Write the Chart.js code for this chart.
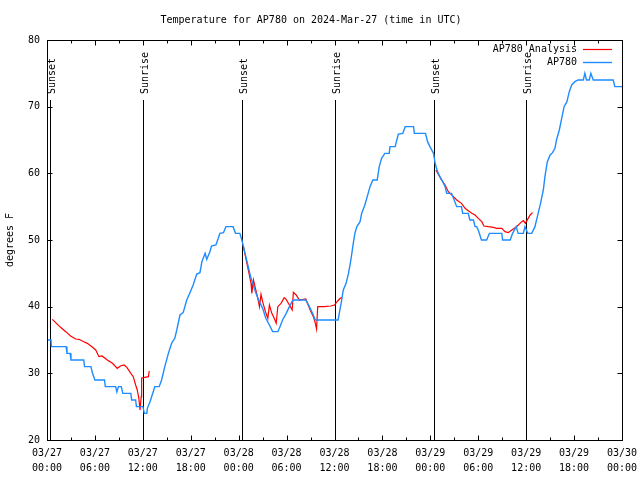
<!DOCTYPE html>
<html>
<head>
<meta charset="utf-8">
<script src="https://cdn.jsdelivr.net/npm/chart.js@4"></script>
<style>
  html, body { margin: 0; padding: 0; background: #fff; }
  #wrap { width: 640px; height: 480px; }
</style>
</head>
<body>
<div id="wrap"><canvas id="chart" width="640" height="480"></canvas></div>
<script>
// hours since 03/27 00:00 UTC
const blueHours = [0, 0.5, 0.55, 2.4, 2.5, 2.9, 3.0, 4.6, 4.7, 5.5, 5.7, 6.0, 7.2, 7.3, 8.6, 8.75, 8.95, 9.3, 9.5, 10.5,
  10.6, 11.1, 11.2, 12.0, 12.2, 12.5, 12.56, 12.9, 13.3, 13.5, 14.05, 14.35, 14.75, 15.2, 15.6, 16.0, 16.25, 16.65, 17.05, 17.5,
  17.9, 18.3, 18.75, 19.15, 19.4, 19.8, 20.0, 20.4, 20.6, 21.15, 21.45, 21.65, 22.1, 22.4, 23.3, 23.6, 24.15, 24.4, 24.8, 25.25,
  25.55, 25.95, 26.25, 26.6, 27.0, 27.4, 27.85, 28.25, 28.9, 29.1, 29.5, 29.95, 30.35, 30.75, 30.95, 32.4, 32.85, 33.25, 33.6, 36.45,
  36.6, 36.9, 37.1, 37.45, 37.75, 38.05, 38.35, 38.55, 38.8, 39.2, 39.4, 39.8, 40.1, 40.45, 40.8, 41.35, 41.6, 41.9, 42.3, 42.85,
  42.95, 43.6, 43.8, 44.0, 44.55, 44.85, 45.9, 46.0, 47.4, 47.65, 47.95, 48.4, 48.6, 48.9, 49.2, 49.55, 49.85, 50.05, 50.65, 50.9,
  51.3, 51.9, 52.05, 52.75, 52.95, 53.4, 53.6, 53.8, 54.0, 54.4, 55.05, 55.4, 56.95, 57.05, 58.0, 58.3, 58.75, 59.0, 59.65, 59.85,
  60.2, 60.7, 61.1, 61.5, 61.8, 62.15, 62.35, 62.65, 63.0, 63.3, 63.6, 63.8, 64.15, 64.45, 64.75, 65.1, 65.4, 65.7, 66.1, 66.5,
  67.15, 67.35, 67.55, 67.9, 68.1, 68.4, 70.9, 71.1, 72];
const blueTemps = [35, 35, 34, 34, 33, 33, 32, 32, 31, 31, 30, 29, 29, 28, 28, 27.2, 28, 28, 27, 27,
  26, 26, 25, 25, 24, 24, 24.75, 25.75, 27.25, 28, 28, 29, 31, 33, 34.5, 35.25, 36.5, 38.75, 39.1, 41,
  42.1, 43.25, 44.9, 45.1, 46.75, 48, 47.1, 48.25, 49.1, 49.25, 50.25, 51, 51.1, 52, 52, 51, 51, 50, 48, 45.75,
  44.25, 42.75, 41.75, 40.75, 39.75, 38.25, 37.25, 36.25, 36.25, 36.75, 38, 39, 40, 40.9, 41, 41, 40, 39, 38, 38,
  39, 41, 42.5, 43.5, 45, 47, 49.5, 51, 52, 52.75, 54, 55.25, 56.5, 58, 59, 59, 61, 62.25, 63, 63,
  64, 64, 65, 65.9, 66, 67, 67, 66, 66, 64.75, 64, 63, 61.5, 60.25, 59.5, 58.75, 58, 57, 57, 56.25,
  55, 55, 54, 54, 53, 53, 52, 52, 51.5, 50, 50, 51, 51, 50, 50, 51, 52, 51, 51, 52,
  51, 51, 52, 54, 55.5, 57.5, 59.5, 61.75, 62.75, 63.1, 63.75, 65, 66.5, 68.25, 70, 70.75, 72.25, 73.25, 73.75, 74,
  74, 75, 74, 74, 75, 74, 74, 73, 73];

const redHours = [0.67, 1.7, 2.35, 2.95, 3.6, 4.0, 4.6, 5.05, 5.7, 6.1, 6.5, 6.9, 7.55, 8.2, 8.8, 9.2, 9.65, 10.0, 10.5, 10.8,
  11.1, 11.3, 11.5, 11.65, 11.8, 11.85, 12.7, 12.8, 18,
  24.6, 24.9, 25.25, 25.55, 25.65, 25.85, 26.1, 26.4, 26.6, 26.8, 27.0, 27.35, 27.65, 27.85, 28.15, 28.45, 28.7, 28.9, 29.3, 29.7,
  29.95, 30.35, 30.7, 30.85, 31.2, 31.6, 32.4, 33.05, 33.35, 33.6, 33.75, 33.9, 34.7, 35.55, 36.0, 36.4, 36.7, 36.95, 42,
  48.7, 49.4, 49.85, 50.25, 50.9, 51.3, 51.9, 52.35, 52.75, 53.2, 53.6, 54.0, 54.45, 54.7, 55.25, 55.9, 56.3, 56.95, 57.35, 57.75,
  58.2, 58.8, 59.45, 59.65, 59.9, 60.25, 60.5, 60.8];
const redTemps = [38.1, 36.9, 36.25, 35.6, 35.15, 35.1, 34.75, 34.5, 33.9, 33.5, 32.5, 32.6, 32, 31.5, 30.75, 31.1, 31.25, 30.9, 30, 29.5,
  28.25, 27.5, 26.25, 24.5, 26.5, 29.3, 29.5, 30.35, null,
  49, 47.25, 45.25, 43.5, 42, 44, 42.75, 41.25, 40, 41.85, 40.75, 39.25, 38.25, 40.25, 39, 38.25, 37.5, 40, 40.5, 41.35,
  41.1, 40.25, 39.5, 42.15, 41.75, 41, 41.15, 39.25, 38.5, 37.5, 36.65, 40, 40, 40.1, 40.25, 40.85, 41.25, 41.35, null,
  60.5, 59, 58.25, 57.25, 56.5, 56, 55.5, 54.75, 54.4, 54, 53.75, 53.25, 52.75, 52.1, 52, 51.9, 51.75, 51.75, 51.25, 51.1,
  51.5, 52, 52.75, 52.9, 52.5, 53.25, 53.75, 54.1];

const eventHours = [0.4, 12.0, 24.4, 36.05, 48.45, 60.0];
const eventLabels = ['Sunset', 'Sunrise', 'Sunset', 'Sunrise', 'Sunset', 'Sunrise'];

const tickDates = ['03/27', '03/27', '03/27', '03/27', '03/28', '03/28', '03/28', '03/28', '03/29', '03/29', '03/29', '03/29', '03/30'];
const tickTimes = ['00:00', '06:00', '12:00', '18:00', '00:00', '06:00', '12:00', '18:00', '00:00', '06:00', '12:00', '18:00', '00:00'];

const FONT = 'DejaVu Sans Mono';

function points(xs, ys) {
  return xs.map((x, i) => ({ x: x, y: ys[i] }));
}

// gnuplot style frame: box, inward tics, sunrise/sunset markers, inset key
const gnuFrame = {
  id: 'gnuFrame',
  beforeDatasetsDraw(chart) {
    const ctx = chart.ctx;
    const xs = chart.scales.x;
    const ys = chart.scales.y;
    const top = ys.getPixelForValue(71);
    ctx.save();
    ctx.strokeStyle = '#000';
    ctx.lineWidth = 1;
    ctx.fillStyle = '#000';
    ctx.font = '10px ' + FONT;
    eventHours.forEach((h, i) => {
      const px = Math.round(xs.getPixelForValue(h)) + 0.5;
      ctx.beginPath();
      ctx.moveTo(px, top);
      ctx.lineTo(px, chart.chartArea.bottom);
      ctx.stroke();
      ctx.save();
      ctx.translate(px + 2, top - 6);
      ctx.rotate(-Math.PI / 2);
      ctx.textAlign = 'left';
      ctx.textBaseline = 'middle';
      ctx.fillText(eventLabels[i], 0, 0);
      ctx.restore();
    });
    ctx.restore();
  },
  afterDraw(chart) {
    const ctx = chart.ctx;
    const a = chart.chartArea;
    const xs = chart.scales.x;
    const ys = chart.scales.y;
    ctx.save();
    ctx.strokeStyle = '#000';
    ctx.lineWidth = 1;
    const L = Math.round(a.left) + 0.5, R = Math.round(a.right) + 0.5;
    const T = Math.round(a.top) + 0.5, B = Math.round(a.bottom) + 0.5;
    ctx.strokeRect(L, T, R - L, B - T);
    ctx.beginPath();
    for (let h = 0; h <= 72; h += 3) {
      const px = Math.round(xs.getPixelForValue(h)) + 0.5;
      const len = h % 6 === 0 ? 5 : 3;
      ctx.moveTo(px, B); ctx.lineTo(px, B - len);
      ctx.moveTo(px, T); ctx.lineTo(px, T + len);
    }
    for (let v = 20; v <= 80; v += 10) {
      const py = Math.round(ys.getPixelForValue(v)) + 0.5;
      ctx.moveTo(L, py); ctx.lineTo(L + 5, py);
      ctx.moveTo(R, py); ctx.lineTo(R - 5, py);
    }
    ctx.stroke();

    // key
    ctx.font = '10px ' + FONT;
    ctx.textAlign = 'right';
    ctx.textBaseline = 'middle';
    ctx.fillStyle = '#000';
    chart.data.datasets.forEach((ds, i) => {
      const y = 49.5 + i * 13;
      ctx.fillText(ds.label, 577, y);
      ctx.strokeStyle = ds.borderColor;
      ctx.lineWidth = ds.borderWidth;
      ctx.beginPath();
      ctx.moveTo(583, y);
      ctx.lineTo(612, y);
      ctx.stroke();
    });
    ctx.restore();
  }
};

Chart.defaults.font.family = FONT;
Chart.defaults.font.size = 10;
Chart.defaults.color = '#000';

new Chart(document.getElementById('chart'), {
  type: 'line',
  data: {
    datasets: [
      {
        label: 'AP780 Analysis',
        data: points(redHours, redTemps),
        borderColor: '#ff0000',
        borderWidth: 1.2,
        pointRadius: 0,
        spanGaps: false,
        order: 1
      },
      {
        label: 'AP780',
        data: points(blueHours, blueTemps),
        borderColor: '#1e8cff',
        borderWidth: 1.4,
        pointRadius: 0,
        order: 0
      }
    ]
  },
  options: {
    responsive: false,
    animation: false,
    layout: { padding: { left: 0, right: 18, top: 0, bottom: 0 } },
    plugins: {
      legend: { display: false },
      tooltip: { enabled: false },
      title: {
        display: true,
        text: 'Temperature for AP780 on 2024-Mar-27 (time in UTC)',
        font: { family: FONT, size: 10, weight: 'normal' },
        color: '#000',
        padding: { top: 14, bottom: 14 }
      }
    },
    scales: {
      x: {
        type: 'linear',
        min: 0,
        max: 72,
        grid: { display: false, drawTicks: false },
        border: { display: false },
        ticks: {
          stepSize: 6,
          maxRotation: 0,
          autoSkip: false,
          padding: 6,
          font: { family: FONT, size: 10, lineHeight: 1.5 },
          callback: (v) => {
            const i = Math.round(v / 6);
            return [tickDates[i], tickTimes[i]];
          }
        },
        afterFit: (s) => {
          s.height = 40;
          s.paddingLeft = 0;
          s.paddingRight = 0;
        }
      },
      y: {
        min: 20,
        max: 80,
        grid: { display: false, drawTicks: false },
        border: { display: false },
        ticks: { stepSize: 10, padding: 7, font: { family: FONT, size: 10 } },
        title: {
          display: true,
          text: 'degrees F',
          font: { family: FONT, size: 10 },
          padding: { top: 4, bottom: 0 }
        },
        afterFit: (s) => { s.width = 47; }
      }
    }
  },
  plugins: [gnuFrame]
});
</script>
</body>
</html>
